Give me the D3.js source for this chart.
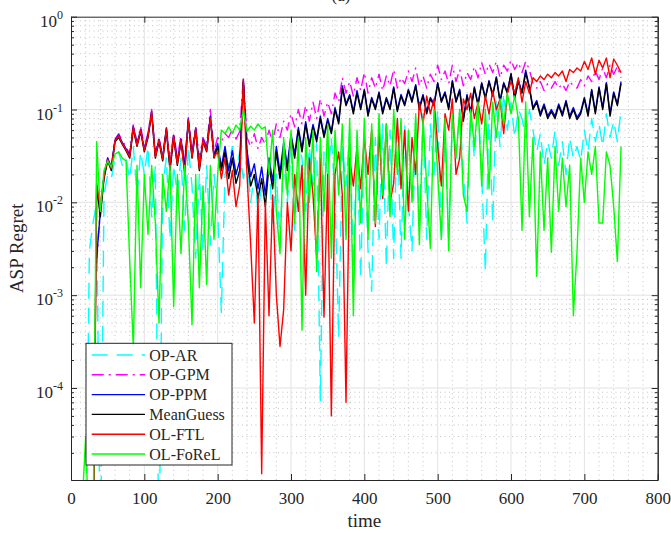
<!DOCTYPE html>
<html>
<head>
<meta charset="utf-8">
<script src="https://cdn.jsdelivr.net/npm/d3@7"></script>
<style>
body{margin:0;background:#fff}
svg{display:block;font-family:"Liberation Serif","Times New Roman",serif}
</style>
</head>
<body>
<div id="chart"></div>
<script>
// time steps (every 5th sample)
const time = d3.range(15, 751, 5);

const opAR = [
 null,1e-6,0.003,0.006,0.01,1e-6,0.012,0.02,0.018,0.03,
 0.035,0.025,0.03,0.018,0.04,0.012,0.035,0.02,0.04,0.007,
 0.025,1e-6,0.015,0.03,0.004,0.025,0.012,0.03,0.005,0.04,
 0.015,0.0025,0.02,0.003,0.025,0.0035,0.02,0.008,0.00065,0.02,
 0.025,0.04,0.02,0.035,0.018,0.03,0.01,0.02,0.008,0.015,
 0.012,0.025,0.006,0.02,0.004,0.03,0.01,0.035,0.005,0.04,
 0.03,0.008,0.04,0.015,0.045,0.000073,0.035,0.02,0.05,0.012,
 0.00035,0.04,0.015,0.06,0.002,0.05,0.0015,0.06,0.003,0.0011,
 0.05,0.004,0.07,0.002,0.06,0.0025,0.08,0.0025,0.07,0.01,
 0.003,0.08,0.005,0.09,0.004,0.07,0.02,0.1,0.004,0.06,
 0.004,0.08,0.03,0.1,0.02,0.006,0.09,0.03,0.12,0.02,
 0.0018,0.1,0.006,0.13,0.04,0.15,0.06,0.12,0.05,0.1,
 0.08,0.05,0.1,0.06,0.035,0.055,0.025,0.045,0.03,0.06,
 0.025,0.045,0.02,0.05,0.03,0.04,0.028,0.06,0.035,0.08,
 0.045,0.07,0.04,0.09,0.05,0.075,0.045,0.1
];
const opGPM = [
 null,null,null,null,0.0022,0.009,0.019,0.03,0.024,0.048,
 0.055,0.046,0.04,0.033,0.07,0.044,0.065,0.04,0.056,0.1,
 0.034,0.05,0.031,0.066,0.028,0.056,0.03,0.052,0.028,0.082,
 0.035,0.066,0.03,0.05,0.04,0.1,0.036,0.05,0.045,0.055,
 0.05,0.062,0.048,0.058,0.22,0.05,0.04,0.055,0.038,0.05,
 0.042,0.06,0.045,0.07,0.05,0.075,0.06,0.09,0.065,0.1,
 0.07,0.11,0.075,0.12,0.08,0.13,0.085,0.12,0.09,0.15,
 0.12,0.22,0.15,0.2,0.14,0.22,0.16,0.25,0.15,0.22,
 0.17,0.24,0.16,0.23,0.18,0.27,0.17,0.22,0.19,0.26,
 0.2,0.28,0.18,0.23,0.17,0.24,0.2,0.3,0.21,0.26,
 0.19,0.3,0.2,0.27,0.18,0.25,0.21,0.29,0.22,0.32,
 0.24,0.31,0.25,0.33,0.22,0.3,0.26,0.34,0.27,0.32,
 0.25,0.33,0.27,0.19,0.17,0.2,0.16,0.19,0.17,0.2,
 0.17,0.19,0.16,0.2,0.18,0.17,0.21,0.18,0.23,0.2,
 0.26,0.21,0.28,0.22,0.3,0.24,0.29,0.22
];
const opPPM = [
 null,null,null,null,0.0025,0.008,0.019,0.03,0.024,0.047,
 0.053,0.044,0.038,0.032,0.066,0.042,0.061,0.037,0.053,0.095,
 0.032,0.048,0.03,0.063,0.024,0.053,0.027,0.048,0.024,0.079,
 0.032,0.063,0.024,0.048,0.038,0.085,0.032,0.043,0.024,0.04,
 0.022,0.036,0.02,0.028,0.21,0.036,0.019,0.026,0.014,0.024,
 0.012,0.03,0.017,0.04,0.021,0.044,0.025,0.054,0.033,0.064,
 0.038,0.074,0.043,0.069,0.048,0.085,0.053,0.08,0.058,0.105,
 0.074,0.18,0.115,0.145,0.095,0.16,0.105,0.165,0.09,0.135,
 0.105,0.155,0.095,0.135,0.105,0.175,0.1,0.145,0.115,0.165,
 0.125,0.185,0.105,0.145,0.095,0.135,0.115,0.195,0.125,0.155,
 0.105,0.205,0.125,0.165,0.08,0.145,0.095,0.175,0.115,0.195,
 0.135,0.205,0.145,0.225,0.125,0.195,0.155,0.245,0.135,0.205,
 0.155,0.265,0.175,0.105,0.125,0.09,0.115,0.085,0.1,0.085,
 0.115,0.09,0.125,0.085,0.105,0.082,0.095,0.135,0.09,0.165,
 0.095,0.175,0.105,0.195,0.09,0.155,0.115,0.2
];
const meanGuess = [
 null,null,null,1e-6,0.015,0.007,0.018,0.028,0.022,0.045,
 0.05,0.042,0.036,0.03,0.062,0.04,0.058,0.035,0.05,0.09,
 0.03,0.045,0.028,0.06,0.022,0.05,0.025,0.045,0.022,0.075,
 0.03,0.06,0.022,0.045,0.035,0.08,0.03,0.04,0.022,0.035,
 0.018,0.03,0.016,0.022,0.2,0.03,0.015,0.02,0.011,0.018,
 0.009,0.025,0.014,0.035,0.018,0.04,0.022,0.05,0.03,0.06,
 0.035,0.07,0.04,0.065,0.045,0.08,0.05,0.075,0.055,0.1,
 0.07,0.17,0.11,0.14,0.09,0.15,0.1,0.16,0.085,0.13,
 0.1,0.15,0.09,0.13,0.1,0.17,0.095,0.14,0.11,0.16,
 0.12,0.18,0.1,0.14,0.09,0.13,0.11,0.19,0.12,0.15,
 0.1,0.2,0.12,0.16,0.075,0.14,0.09,0.17,0.11,0.19,
 0.13,0.2,0.14,0.22,0.12,0.19,0.15,0.24,0.13,0.2,
 0.15,0.25,0.17,0.1,0.12,0.085,0.11,0.08,0.095,0.08,
 0.11,0.085,0.12,0.08,0.1,0.078,0.09,0.13,0.085,0.16,
 0.09,0.17,0.1,0.19,0.085,0.15,0.11,0.19
];
const olFTL = [
 null,null,null,1e-6,0.016,0.009,0.019,0.029,0.023,0.046,
 0.052,0.043,0.037,0.031,0.065,0.041,0.06,0.036,0.052,0.094,
 0.031,0.047,0.029,0.062,0.025,0.052,0.026,0.047,0.02,0.078,
 0.031,0.062,0.023,0.047,0.036,0.082,0.031,0.035,0.018,0.03,
 0.012,0.022,0.009,0.015,0.21,0.02,0.0035,0.0005,0.012,0.000012,
 0.01,0.0006,0.012,0.001,0.00028,0.0007,0.01,0.003,0.02,0.008,
 0.025,0.001,0.03,0.012,0.0025,0.03,0.00058,0.02,0.00005,0.02,
 0.035,0.012,0.00007,0.03,0.015,0.04,0.014,0.05,0.02,0.06,
 0.0055,0.06,0.011,0.07,0.01,0.016,0.08,0.014,0.06,0.008,
 0.05,0.02,0.12,0.07,0.14,0.09,0.13,0.04,0.015,0.09,
 0.06,0.13,0.02,0.03,0.13,0.1,0.15,0.08,0.12,0.07,
 0.14,0.09,0.16,0.1,0.13,0.055,0.15,0.2,0.15,0.22,
 0.12,0.2,0.15,0.22,0.2,0.23,0.21,0.24,0.22,0.25,
 0.23,0.26,0.2,0.27,0.25,0.28,0.26,0.33,0.27,0.36,
 0.24,0.34,0.28,0.36,0.22,0.35,0.3,0.25
];
const olFoReL = [
 0.000005,0.00003,0.000002,0.000002,0.045,0.008,0.022,0.028,0.024,0.033,
 0.035,0.03,0.028,0.0024,0.00027,0.025,0.0012,0.02,0.0045,0.025,
 0.006,0.0005,0.02,0.008,0.025,0.00075,0.02,0.0028,0.025,0.006,
 0.00048,0.02,0.0012,0.015,0.0013,0.025,0.004,0.02,0.06,0.055,
 0.065,0.055,0.068,0.06,0.1,0.058,0.066,0.06,0.07,0.062,
 0.065,0.02,0.06,0.008,0.0028,0.05,0.012,0.06,0.006,0.05,
 0.00042,0.05,0.01,0.06,0.0018,0.05,0.008,0.07,0.0025,0.06,
 0.012,0.07,0.004,0.08,0.0006,0.06,0.006,0.08,0.004,0.07,
 0.006,0.09,0.012,0.07,0.007,0.1,0.02,0.08,0.004,0.06,
 0.01,0.09,0.0035,0.08,0.015,0.0032,0.1,0.02,0.004,0.08,
 0.003,0.09,0.03,0.1,0.012,0.008,0.1,0.04,0.12,0.015,
 0.1,0.014,0.12,0.05,0.13,0.07,0.15,0.09,0.14,0.08,
 0.005,0.12,0.007,0.05,0.0016,0.035,0.005,0.03,0.0029,0.04,
 0.008,0.03,0.009,0.025,0.0006,0.003,0.03,0.01,0.035,0.02,
 0.04,0.006,0.006,0.035,0.025,0.009,0.0023,0.04
];

const names = ["OP-AR", "OP-GPM", "OP-PPM", "MeanGuess", "OL-FTL", "OL-FoReL"];
const colors = ["#00ffff", "#ff00ff", "#0000ff", "#000000", "#ff0000", "#00ff00"];
const dashes = ["16,9", "12,5,2,5", null, null, null, null];
const seriesValues = [opAR, opGPM, opPPM, meanGuess, olFTL, olFoReL];

const xTicks = [0, 100, 200, 300, 400, 500, 600, 700, 800];
const yTicks = [1e-4, 1e-3, 1e-2, 1e-1, 1];
const yTickExp = ["-4", "-3", "-2", "-1", "0"];

const width = 671;
const height = 533;
const margin = {top: 16.7, right: 13.3, bottom: 53, left: 71};
const axisColor = "#262626";

const svg = d3.select("#chart").append("svg")
  .attr("width", width)
  .attr("height", height);

const x = d3.scaleLinear().domain([0, 800]).range([margin.left, width - margin.right]);
const y = d3.scaleLog().domain([1.02e-5, 1]).range([height - margin.bottom, margin.top]);

const x0 = x.range()[0], x1 = x.range()[1];
const y0 = y.range()[0], y1 = y.range()[1];

// minor grid values
const xMinor = d3.range(20, 800, 20).filter(d => d % 100 !== 0);
const yMinor = [];
for (let e = -5; e < 0; e++) {
  for (let m = 2; m <= 9; m++) {
    const v = m * Math.pow(10, e);
    if (v > y.domain()[0]) yMinor.push(v);
  }
}

// grid
const grid = svg.append("g");
grid.selectAll(".xmin").data(xMinor).join("line")
  .attr("x1", d => x(d)).attr("x2", d => x(d)).attr("y1", y0).attr("y2", y1)
  .attr("stroke", "#c6c6c6").attr("stroke-dasharray", "1,3.5");
grid.selectAll(".ymin").data(yMinor).join("line")
  .attr("class", "ymin")
  .attr("y1", d => y(d)).attr("y2", d => y(d)).attr("x1", x0).attr("x2", x1)
  .attr("stroke", "#c6c6c6").attr("stroke-dasharray", "1,3.5");
grid.selectAll(".xmaj").data(xTicks.slice(1, -1)).join("line")
  .attr("class", "xmaj")
  .attr("x1", d => x(d)).attr("x2", d => x(d)).attr("y1", y0).attr("y2", y1)
  .attr("stroke", "#e2e2e2");
grid.selectAll(".ymaj").data(yTicks.slice(0, -1)).join("line")
  .attr("class", "ymaj")
  .attr("y1", d => y(d)).attr("y2", d => y(d)).attr("x1", x0).attr("x2", x1)
  .attr("stroke", "#e2e2e2");

// lines
svg.append("clipPath").attr("id", "clip")
  .append("rect").attr("x", x0).attr("y", y1).attr("width", x1 - x0).attr("height", y0 - y1);

const line = d3.line()
  .defined(d => d[1] != null)
  .x(d => x(d[0]))
  .y(d => y(d[1]));

const plot = svg.append("g").attr("clip-path", "url(#clip)");
seriesValues.forEach((vals, i) => {
  plot.append("path")
    .datum(time.map((t, k) => [t, vals[k]]))
    .attr("fill", "none")
    .attr("stroke", colors[i])
    .attr("stroke-width", 1.4)
    .attr("stroke-linejoin", "round")
    .attr("stroke-dasharray", dashes[i])
    .attr("d", line);
});

// axes (ticks inside, box on)
function styleAxis(g) {
  g.select(".domain").attr("stroke", axisColor);
  g.selectAll(".tick line").attr("stroke", axisColor);
  g.selectAll(".tick text").attr("fill", axisColor);
}

svg.append("g")
  .attr("transform", `translate(0,${y0})`)
  .call(d3.axisBottom(x).tickValues(xTicks).tickSizeInner(-6).tickSizeOuter(0).tickPadding(12))
  .call(styleAxis)
  .call(g => g.selectAll(".tick text").attr("font-size", 17).attr("font-family", "Liberation Serif"));

svg.append("g")
  .attr("transform", `translate(0,${y1})`)
  .call(d3.axisTop(x).tickValues(xTicks).tickSizeInner(-6).tickSizeOuter(0).tickFormat(""))
  .call(styleAxis);

svg.append("g")
  .attr("transform", `translate(${x0},0)`)
  .call(d3.axisLeft(y).tickValues(yTicks).tickSizeInner(-6).tickSizeOuter(0).tickFormat(""))
  .call(styleAxis);
svg.append("g")
  .attr("transform", `translate(${x0},0)`)
  .call(d3.axisLeft(y).tickValues(yMinor).tickSizeInner(-3).tickSizeOuter(0).tickFormat(""))
  .call(styleAxis);
svg.append("g")
  .attr("transform", `translate(${x1},0)`)
  .call(d3.axisRight(y).tickValues(yTicks).tickSizeInner(-6).tickSizeOuter(0).tickFormat(""))
  .call(styleAxis);
svg.append("g")
  .attr("transform", `translate(${x1},0)`)
  .call(d3.axisRight(y).tickValues(yMinor).tickSizeInner(-3).tickSizeOuter(0).tickFormat(""))
  .call(styleAxis);

// y tick labels 10^n
const yl = svg.append("g").attr("fill", axisColor);
yTicks.forEach((v, i) => {
  const t = yl.append("text")
    .attr("x", x0 - 8)
    .attr("y", y(v) + 10)
    .attr("text-anchor", "end")
    .attr("font-size", 17);
  t.append("tspan").text("10");
  t.append("tspan").attr("dy", -8).attr("font-size", 12).text(yTickExp[i]);
});

// labels
svg.append("text")
  .attr("x", (x0 + x1) / 2).attr("y", 527)
  .attr("text-anchor", "middle").attr("font-size", 19).attr("fill", axisColor)
  .text("time");
svg.append("text")
  .attr("transform", `translate(23,${(y0 + y1) / 2}) rotate(-90)`)
  .attr("text-anchor", "middle").attr("font-size", 19).attr("fill", axisColor)
  .text("ASP Regret");
// title sits mostly above the top edge, as in the reference
svg.append("text")
  .attr("x", 341).attr("y", 1)
  .attr("text-anchor", "middle").attr("font-size", 17).attr("fill", axisColor)
  .text("(a)");

// legend
const lg = svg.append("g");
lg.append("rect")
  .attr("x", 86).attr("y", 343.3).attr("width", 146).attr("height", 121.7)
  .attr("fill", "#fff").attr("stroke", axisColor).attr("stroke-width", 1);
names.forEach((n, i) => {
  const yy = 355 + i * 19.8;
  lg.append("line")
    .attr("x1", 91.7).attr("x2", 145).attr("y1", yy).attr("y2", yy)
    .attr("stroke", colors[i]).attr("stroke-width", 1.4)
    .attr("stroke-dasharray", dashes[i]);
  lg.append("text")
    .attr("x", 149.3).attr("y", yy).attr("dy", "0.35em")
    .attr("font-size", 16).attr("fill", axisColor)
    .text(n);
});
</script>
</body>
</html>
